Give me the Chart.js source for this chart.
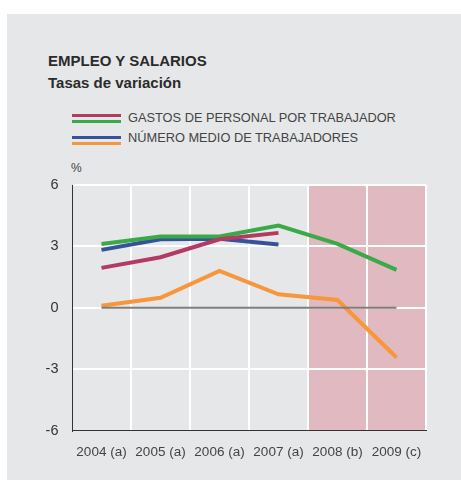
<!DOCTYPE html>
<html>
<head>
<meta charset="utf-8">
<script src="https://cdn.jsdelivr.net/npm/chart.js@4.4.1/dist/chart.umd.min.js"></script>
<style>
  html, body { margin: 0; padding: 0; background: #fff; }
  #wrap { position: relative; width: 461px; height: 491px; font-family: 'Liberation Sans', Arial, sans-serif; }
  #panel { position: absolute; left: 7px; top: 14px; width: 454px; height: 466px; background: #e6e7e8; }
  .t { position: absolute; left: 48px; font-size: 15px; line-height: 15px; font-weight: bold; color: #2b2b2b; white-space: nowrap; }
  .lg { position: absolute; left: 128px; font-size: 12.8px; line-height: 12.8px; color: #444; white-space: nowrap; }
  .sw { position: absolute; left: 72px; width: 49px; height: 3px; }
  #pct { position: absolute; left: 71px; top: 162px; font-size: 12px; line-height: 12px; color: #444; }
  canvas { position: absolute; left: 0; top: 0; }
</style>
</head>
<body>
<div id="wrap">
  <div id="panel"></div>
  <div class="t" style="top:53px">EMPLEO Y SALARIOS</div>
  <div class="t" style="top:75px">Tasas de variación</div>
  <div class="sw" style="top:113.5px;background:#b33a62"></div>
  <div class="sw" style="top:119.5px;background:#3aaa48"></div>
  <div class="lg" style="top:112px">GASTOS DE PERSONAL POR TRABAJADOR</div>
  <div class="sw" style="top:135.5px;background:#35529b"></div>
  <div class="sw" style="top:142px;background:#f7963a"></div>
  <div class="lg" style="top:131.5px">NÚMERO MEDIO DE TRABAJADORES</div>
  <div id="pct">%</div>
  <canvas id="c" width="461" height="491"></canvas>
</div>
<script>
const years = ['2004 (a)', '2005 (a)', '2006 (a)', '2007 (a)', '2008 (b)', '2009 (c)'];
const gastosA = [1.95, 2.47, 3.35, 3.66, null, null];   // red
const gastosB = [3.12, 3.48, 3.48, 4.02, 3.12, 1.85];   // green
const empleoA = [2.83, 3.35, 3.37, 3.09, null, null];   // blue
const empleoB = [0.10, 0.49, 1.80, 0.66, 0.38, -2.43];  // orange
const zeroLine = [0, 0, 0, 0, 0, 0];
const yTicks = [-6, -3, 0, 3, 6];
const shadedFrom = 4; // first forecast year

const font = "'Liberation Sans', Arial, sans-serif";

const shade = {
  id: 'shade',
  beforeDraw(chart) {
    const { ctx, chartArea, scales: { x } } = chart;
    const x0 = (x.getPixelForValue(shadedFrom - 1) + x.getPixelForValue(shadedFrom)) / 2;
    ctx.save();
    ctx.fillStyle = '#e1b9c0';
    ctx.fillRect(x0, chartArea.top, chartArea.right - x0, chartArea.bottom - chartArea.top);
    ctx.restore();
  }
};

function line(data, color, width) {
  return { data, borderColor: color, borderWidth: width, pointRadius: 0, tension: 0, fill: false, spanGaps: false };
}

new Chart(document.getElementById('c'), {
  type: 'line',
  data: {
    labels: years,
    datasets: [
      line(zeroLine, '#7d7d7d', 2),
      line(empleoB, '#f7963a', 4),
      line(gastosA, '#b33a62', 4),
      line(gastosB, '#3aaa48', 4),
      line(empleoA, '#35529b', 4)
    ]
  },
  options: {
    responsive: false,
    animation: false,
    layout: { padding: { left: 0, right: 35, top: 185, bottom: 20.5 } },
    plugins: { legend: { display: false }, tooltip: { enabled: false } },
    scales: {
      x: {
        offset: true,
        grid: { offset: true, drawTicks: false, lineWidth: 2,
                color: c => c.index === 0 ? 'rgba(0,0,0,0)' : '#ffffff' },
        border: { display: true, color: '#333', width: 1 },
        ticks: { padding: 14, color: '#444', font: { family: font, size: 13.5 }, maxRotation: 0, autoSkip: false },
        afterFit: s => { s.height = 40; }
      },
      y: {
        min: -6, max: 6,
        afterBuildTicks: s => { s.ticks = yTicks.map(v => ({ value: v })); },
        grid: { drawTicks: false, lineWidth: 2,
                color: c => (c.tick && c.tick.value === -6) ? 'rgba(0,0,0,0)' : '#ffffff' },
        border: { display: true, color: '#333', width: 1 },
        ticks: { padding: 13.5, color: '#333', font: { family: font, size: 14.5 } },
        afterFit: s => { s.width = 72; }
      }
    }
  },
  plugins: [shade]
});
</script>
</body>
</html>
